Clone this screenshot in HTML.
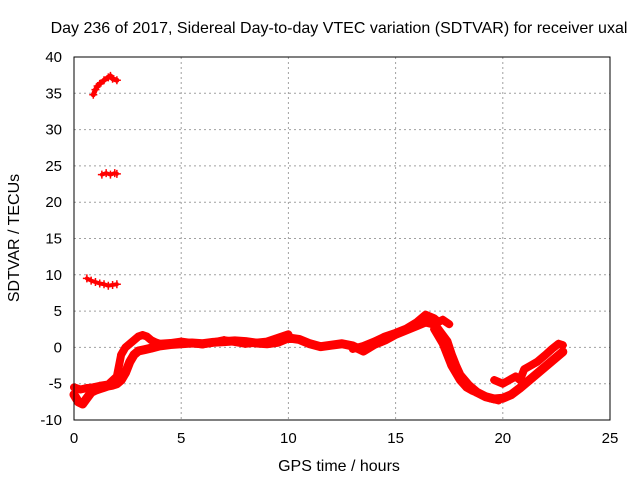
<!DOCTYPE html>
<html><head><meta charset="utf-8"><style>
body{margin:0;background:#fff;}
svg{font-family:"Liberation Sans",sans-serif;font-size:15px;}
</style></head><body>
<svg id="chart" width="640" height="480" xmlns="http://www.w3.org/2000/svg">
<text x="339" y="33" text-anchor="middle" fill="#000" style="font-size:16px">Day 236 of 2017, Sidereal Day-to-day VTEC variation (SDTVAR) for receiver uxal</text>
<text x="339" y="471" text-anchor="middle" style="font-size:16px">GPS time / hours</text>
<text transform="translate(19,238) rotate(-90)" text-anchor="middle" style="font-size:16px">SDTVAR / TECUs</text>
<g id="grid"></g><g id="ticks"></g><g id="marks"></g>
<rect x="74" y="57" width="536" height="363" fill="none" stroke="#000" stroke-width="1"/>
</svg>
<script>
const xTicks=[0,5,10,15,20,25];
const yTicks=[-10,-5,0,5,10,15,20,25,30,35,40];
const trackMainT=[0,0.2,0.4,0.6,0.8,1,1.2,1.4,1.6,1.8,2,2.2,2.4,2.6,2.8,3,3.3,3.6,4,4.5,5,5.5,6,6.5,7,7.5,8,8.5,9,9.5,10,10.5,11,11.5,12,12.5,13,13.5,14,14.5,15,15.5,16,16.4,16.8,17.1,17.4,17.6,17.8,18,18.4,18.8,19.2,19.6,20,20.4,20.8,21.2,21.6,22,22.4,22.8];
const trackMainV=[-6.5,-7.5,-7.8,-7,-6.2,-5.9,-5.7,-5.5,-5.3,-5.2,-5,-4.5,-3.5,-2,-1,-0.5,-0.3,-0.1,0.2,0.4,0.5,0.6,0.5,0.7,0.8,0.9,0.8,0.6,0.5,0.7,1.3,1.1,0.5,0.1,0.3,0.5,0.2,-0.5,0.4,1,1.8,2.4,3,3.5,3.2,2,0.8,-1,-2.5,-3.8,-5.2,-6.2,-6.8,-7.1,-7,-6.5,-5.6,-4.6,-3.6,-2.6,-1.6,-0.6];
const trackEarlyT=[0,0.3,0.6,0.9,1.2,1.6,2,2.2,2.4,2.6,2.8,3,3.2,3.4,3.6,3.8,4,4.5,5,6,7,8,9,10];
const trackEarlyV=[-5.5,-5.8,-5.6,-5.5,-5.3,-5.1,-4,-1,0,0.5,1,1.5,1.7,1.5,1,0.7,0.5,0.6,0.8,0.4,1,0.5,0.8,1.8];
const trackLateT=[13,13.5,14,14.5,15,15.5,16,16.4,16.8,17,17.2,17.5];
const trackLateV=[-0.2,0.2,0.8,1.5,2,2.6,3.5,4.5,4,3.5,3.8,3.2];
const trackDescT=[16.8,17,17.2,17.4,17.6,17.8,18,18.3,18.6,19,19.4,19.8];
const trackDescV=[2.5,1.5,0.5,-1,-2.5,-3.5,-4.5,-5.5,-6,-6.5,-7,-7.3];
const trackRiseT=[19.6,20,20.3,20.6,20.8,21,21.3,21.6,22,22.3,22.6,22.8];
const trackRiseV=[-4.5,-5,-4.5,-4,-4.5,-3,-2.5,-2,-1,-0.2,0.5,0.3];
const trackHighT=[0.9,1,1.1,1.2,1.4,1.6,1.7,1.8,2];
const trackHighV=[34.8,35.5,36,36.3,36.8,37.2,37.4,37,36.8];
const trackMidT=[1.3,1.5,1.7,1.9,2];
const trackMidV=[23.8,24,23.8,24,23.9];
const trackLowT=[0.6,0.8,1,1.2,1.4,1.6,1.8,2];
const trackLowV=[9.5,9.2,9,8.8,8.7,8.5,8.6,8.7];
const X=t=>74+t*536/25, Y=v=>57+(40-v)*363/50;
const ns="http://www.w3.org/2000/svg";
function mk(tag,attrs,parent){const e=document.createElementNS(ns,tag);for(const k in attrs)e.setAttribute(k,attrs[k]);parent.appendChild(e);return e;}
const grid=document.getElementById('grid'),ticks=document.getElementById('ticks'),marks=document.getElementById('marks');
xTicks.forEach(t=>{
 if(t>0&&t<25){const g=mk('line',{x1:X(t),x2:X(t),y1:57,y2:420,stroke:'#a0a0a0','stroke-dasharray':'2,3'},grid);
 
 }
 const l=mk('text',{x:X(t),y:443,'text-anchor':'middle'},ticks);l.textContent=t;
 
 
});
yTicks.forEach(v=>{
 if(v>-10&&v<40){const g=mk('line',{x1:74,x2:610,y1:Y(v),y2:Y(v),stroke:'#a0a0a0','stroke-dasharray':'2,3'},grid);
 
 }
 const l=mk('text',{x:62,y:Y(v)+5,'text-anchor':'end'},ticks);l.textContent=v;
 
 
});
const tracks=[[trackMainT,trackMainV,9],[trackEarlyT,trackEarlyV,8],[trackLateT,trackLateV,8],[trackDescT,trackDescV,8],[trackRiseT,trackRiseV,8],[trackHighT,trackHighV,5],[trackMidT,trackMidV,4],[trackLowT,trackLowV,4]];
tracks.forEach(([T,V,w])=>{
 const d=T.map((t,i)=>(i?'L':'M')+X(t)+','+Y(V[i])).join(' ');
 const p=mk('path',{d:d,fill:'none',stroke:'#f00','stroke-width':w,'stroke-linejoin':'round','stroke-linecap':'round'},marks);
 
 
 T.forEach((t,i)=>{const x=X(t),y=Y(V[i]);
  const m=mk('path',{d:`M${x-4},${y}H${x+4}M${x},${y-4}V${y+4}`,stroke:'#f00','stroke-width':1.5},marks);
  
  
 });
});
</script>
</body></html>
